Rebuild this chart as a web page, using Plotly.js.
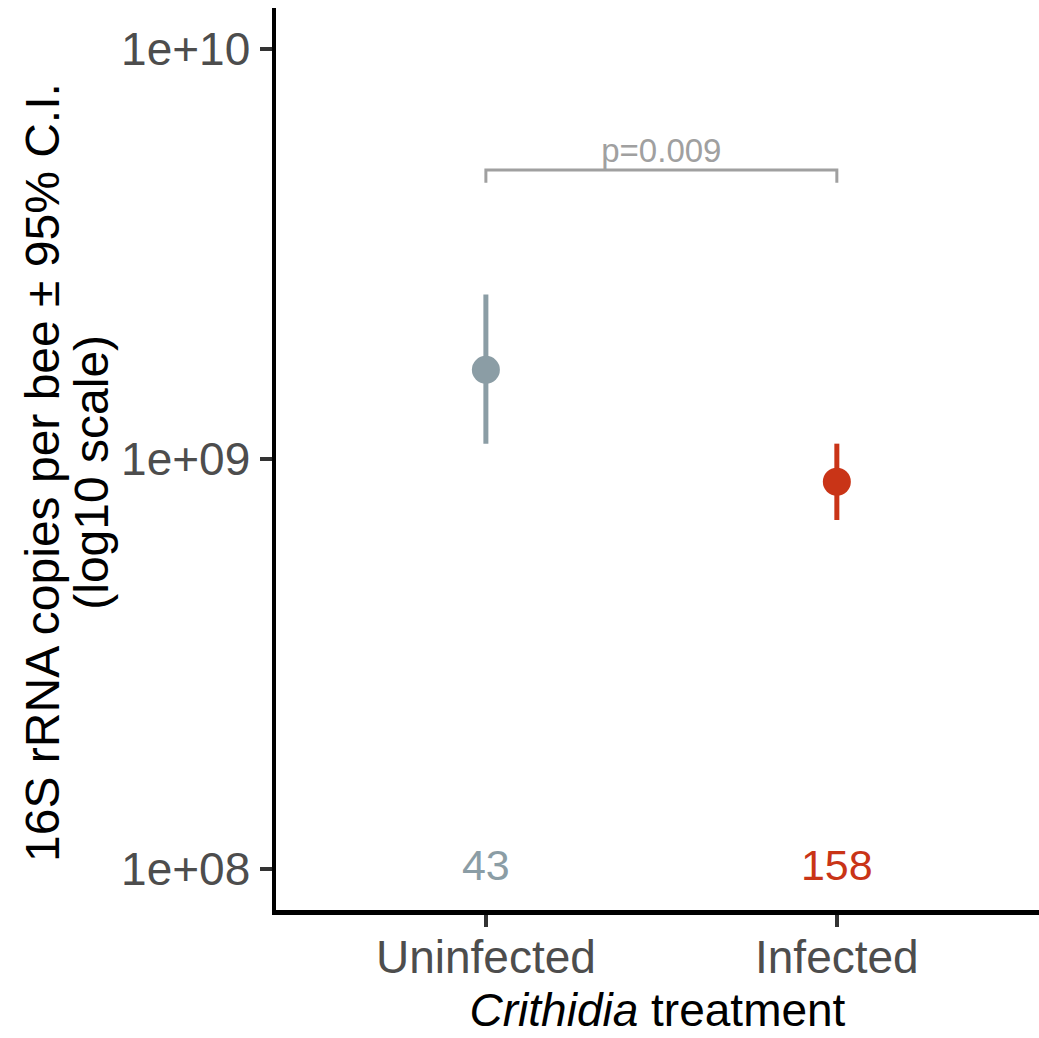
<!DOCTYPE html>
<html>
<head>
<meta charset="utf-8">
<script src="https://cdn.plot.ly/plotly-3.0.1.min.js"></script>
<style>html,body{margin:0;padding:0;background:#fff;overflow:hidden}#chart{width:1039px;height:1038px}</style>
</head>
<body>
<div id="chart"></div>
<script>
// Data
var categories = ["Uninfected", "Infected"];
var meanCopies = [1.65e9, 8.8e8];
var ciUpper = [2.52e9, 1.09e9];
var ciLower = [1.09e9, 7.1e8];
var sampleSizes = ["43", "158"];
var colors = ["#8B9DA5", "#C93417"];
var bracketLow = 4.72e9;
var bracketHigh = 5.07e9;
var pLabel = "p=0.009";
var yTickVals = [1e8, 1e9, 1e10];
var yTickText = ["1e+08", "1e+09", "1e+10"];
var countLabelY = 1e8;
var yTitleLines = ["16S rRNA copies per bee ± 95% C.I.", "(log10 scale)"];

var xIdx = categories.map(function (_, i) { return i; });
var FONT = "Liberation Sans, Arial, Helvetica, sans-serif";

var traces = [];
categories.forEach(function (c, i) {
  traces.push({
    type: "scatter", mode: "markers",
    x: [i], y: [meanCopies[i]],
    marker: { color: colors[i], size: 28, line: { width: 0 } },
    error_y: {
      type: "data", symmetric: false,
      array: [ciUpper[i] - meanCopies[i]],
      arrayminus: [meanCopies[i] - ciLower[i]],
      color: colors[i], thickness: 5, width: 0
    },
    showlegend: false, hoverinfo: "skip"
  });
  traces.push({
    type: "scatter", mode: "text",
    x: [i], y: [countLabelY], text: [sampleSizes[i]],
    textposition: "middle center",
    textfont: { family: FONT, size: 43, color: colors[i] },
    showlegend: false, hoverinfo: "skip", cliponaxis: false
  });
});
// significance bracket
traces.push({
  type: "scatter", mode: "lines",
  x: [xIdx[0], xIdx[0], xIdx[1], xIdx[1]],
  y: [bracketLow, bracketHigh, bracketHigh, bracketLow],
  line: { color: "#A0A0A0", width: 3 },
  showlegend: false, hoverinfo: "skip"
});
traces.push({
  type: "scatter", mode: "text",
  x: [(xIdx[0] + xIdx[1]) / 2], y: [bracketHigh], text: [pLabel],
  textposition: "top center",
  textfont: { family: FONT, size: 33, color: "#A0A0A0" },
  showlegend: false, hoverinfo: "skip"
});

var layout = {
  width: 1039, height: 1038,
  margin: { l: 276, r: 0, t: 8, b: 128, pad: 0 },
  paper_bgcolor: "#ffffff", plot_bgcolor: "#ffffff",
  font: { family: FONT },
  xaxis: {
    range: [-0.598, 1.576],
    tickvals: xIdx, ticktext: categories,
    showgrid: false, zeroline: false,
    showline: true, linecolor: "#000000", linewidth: 4.5,
    ticks: "outside", ticklen: 12, tickwidth: 3.5, tickcolor: "#333333",
    ticklabelstandoff: -9,
    tickfont: { family: FONT, size: 46, color: "#4D4D4D" },
    title: { text: "<i>Crithidia</i> treatment", font: { family: FONT, size: 46, color: "#000000" }, standoff: 13 }
  },
  yaxis: {
    type: "log", range: [7.9, 10.1],
    tickvals: yTickVals, ticktext: yTickText,
    showgrid: false, zeroline: false,
    showline: true, linecolor: "#000000", linewidth: 4.5,
    ticks: "outside", ticklen: 12, tickwidth: 3.5, tickcolor: "#333333",
    tickfont: { family: FONT, size: 46, color: "#4D4D4D" }
  },
  annotations: [
    { xref: "paper", yref: "paper", x: -0.3055, y: 0.4856, text: yTitleLines[0], textangle: -90,
      showarrow: false, xanchor: "center", yanchor: "middle",
      font: { family: FONT, size: 48, color: "#000000" } },
    { xref: "paper", yref: "paper", x: -0.2415, y: 0.4856, text: yTitleLines[1], textangle: -90,
      showarrow: false, xanchor: "center", yanchor: "middle",
      font: { family: FONT, size: 48, color: "#000000" } }
  ],
  showlegend: false
};

Plotly.newPlot("chart", traces, layout, { displayModeBar: false, staticPlot: true });
</script>
</body>
</html>
